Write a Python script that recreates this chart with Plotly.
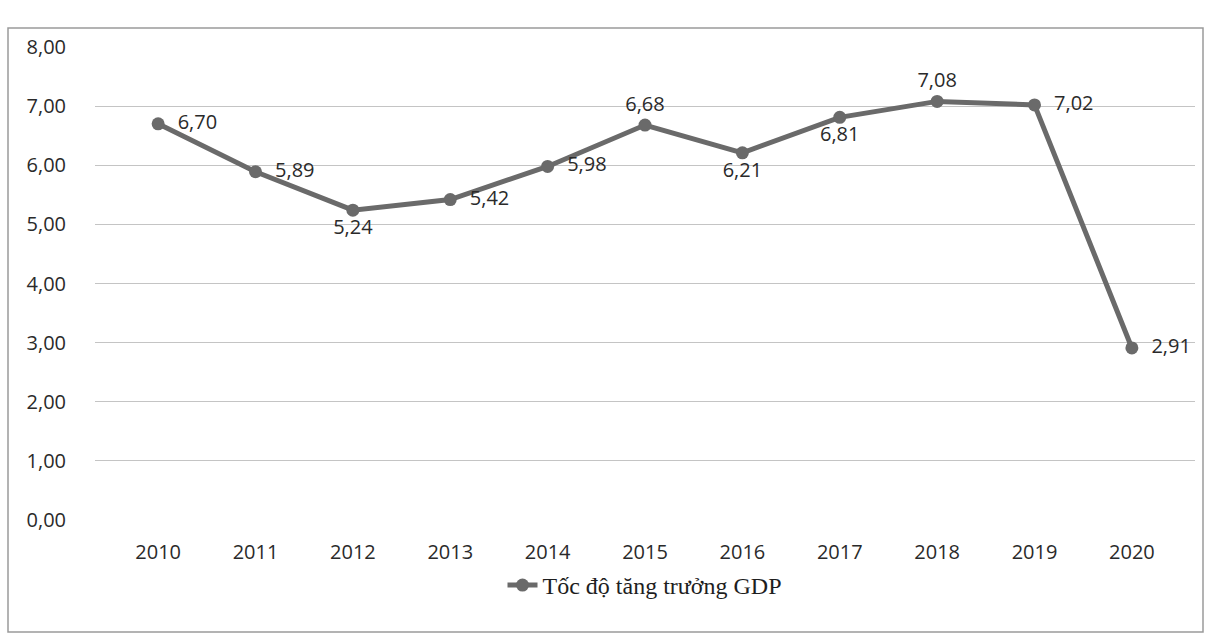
import plotly.graph_objects as go

years = ["2010", "2011", "2012", "2013", "2014", "2015", "2016", "2017", "2018", "2019", "2020"]
growth = [6.70, 5.89, 5.24, 5.42, 5.98, 6.68, 6.21, 6.81, 7.08, 7.02, 2.91]
label_pos = ["middle right", "middle right", "bottom center", "middle right", "middle right",
             "top center", "bottom center", "bottom center", "top center", "middle right", "middle right"]
y_ticks = [0, 1, 2, 3, 4, 5, 6, 7, 8]
series_name = "Tốc độ tăng trưởng GDP"

W, H = 1220, 638
ml, mr, mt, mb = 95, 25, 47, 118
pw, ph = W - ml - mr, H - mt - mb

labels = []
for v, p in zip(growth, label_pos):
    s = f"{v:.2f}".replace(".", ",")
    labels.append(("  " + s) if p == "middle right" else s)

fig = go.Figure()
fig.add_trace(go.Scatter(
    x=years, y=growth, mode="lines+markers+text", name=series_name,
    line=dict(color="#6a6a6a", width=5),
    marker=dict(color="#6a6a6a", size=13),
    text=labels,
    textposition=label_pos,
    textfont=dict(family="Open Sans, Liberation Sans, sans-serif", size=20, color="#2a2a2a"),
    cliponaxis=False,
))

def px_x(p):
    return (p - ml) / pw

def px_y(p):
    return (H - mb - p) / ph

fig.add_shape(type="rect", xref="paper", yref="paper",
              x0=px_x(8), x1=px_x(1203), y0=px_y(632), y1=px_y(28),
              line=dict(color="#9a9a9a", width=1.5), layer="below")

fig.update_layout(
    width=W, height=H,
    margin=dict(l=ml, r=mr, t=mt, b=mb),
    paper_bgcolor="white", plot_bgcolor="white",
    separators=",.",
    showlegend=True,
    legend=dict(orientation="h", x=0.5, xanchor="center", y=px_y(608), yanchor="bottom",
                font=dict(family="Liberation Serif, Times New Roman, serif", size=24, color="#1e1e1e")),
    xaxis=dict(type="category", showgrid=False, showline=False, zeroline=False,
               ticks="", tickfont=dict(family="Open Sans, Liberation Sans, sans-serif", size=20, color="#2a2a2a"),
               ticklabelstandoff=18),
    yaxis=dict(range=[0, 8], tickvals=y_ticks, tickformat=".2f",
               showgrid=True, gridcolor="#c4c4c4", gridwidth=1.2, zeroline=False, showline=False,
               tickfont=dict(family="Open Sans, Liberation Sans, sans-serif", size=20, color="#2a2a2a"),
               ticklabelstandoff=28),
)

fig.write_html("out.html")
